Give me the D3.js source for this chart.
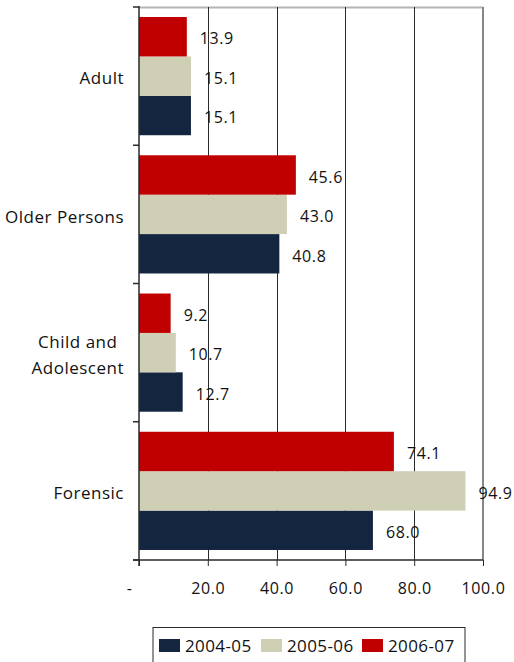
<!DOCTYPE html>
<html>
<head>
<meta charset="utf-8">
<script src="https://cdn.jsdelivr.net/npm/d3@7"></script>
<style>
  html, body { margin: 0; padding: 0; background: #fff; }
  svg { display: block; font-family: "Open Sans", "DejaVu Sans", sans-serif; }
</style>
</head>
<body>
<svg id="chart" width="514" height="662"></svg>
<script>
// Categories, top to bottom
const categories = ["Adult", "Older Persons", "Child and Adolescent", "Forensic"];
// Series names (legend order) and their values per category
const seriesNames = ["2004-05", "2005-06", "2006-07"];
const values2004 = [15.1, 40.8, 12.7, 68.0];
const values2005 = [15.1, 43.0, 10.7, 94.9];
const values2006 = [13.9, 45.6, 9.2, 74.1];
const tickValues = [0, 20, 40, 60, 80, 100];
const tickLabels = ["-", "20.0", "40.0", "60.0", "80.0", "100.0"];
const colors = ["#13253f", "#cfcfb5", "#c00000"];

const seriesValues = [values2004, values2005, values2006];
const data = categories.map((c, i) => ({
  category: c,
  bars: seriesNames.map((s, j) => ({ series: s, value: seriesValues[j][i], color: colors[j] }))
}));

const svg = d3.select("#chart");
const margin = { left: 139, right: 31, top: 7, bottom: 102 };
const W = 514, H = 662;
const x0 = margin.left, x1 = W - margin.right;
const y0 = margin.top, y1 = H - margin.bottom;

const x = d3.scaleLinear().domain([0, 100]).range([x0, x1]);
const y = d3.scaleBand().domain(categories).range([y0, y1]).paddingInner(0.145).paddingOuter(0.0725);
// within a group: 2006-07 on top, then 2005-06, then 2004-05
const ySub = d3.scaleBand().domain(["2006-07", "2005-06", "2004-05"]).range([0, y.bandwidth()]);

const fontSize = 16;
const textColor = "#111";

// plot frame (top and right edges)
svg.append("line").attr("x1", x0).attr("x2", x1).attr("y1", y0 + 0.5).attr("y2", y0 + 0.5)
  .attr("stroke", "#b4b4b4").attr("stroke-width", 2);
svg.append("line").attr("x1", x1).attr("x2", x1).attr("y1", y0).attr("y2", y1)
  .attr("stroke", "#868686").attr("stroke-width", 2);

// vertical gridlines
svg.append("g").selectAll("line").data(tickValues.filter(v => v > 0 && v < 100)).join("line")
  .attr("x1", d => Math.round(x(d)) + 0.5).attr("x2", d => Math.round(x(d)) + 0.5)
  .attr("y1", y0).attr("y2", y1)
  .attr("stroke", "#2a2a2a").attr("stroke-width", 1);

// bars
const groups = svg.append("g").selectAll("g").data(data).join("g")
  .attr("transform", d => `translate(0,${y(d.category)})`);

groups.selectAll("rect").data(d => d.bars).join("rect")
  .attr("x", x(0))
  .attr("y", d => ySub(d.series))
  .attr("width", d => x(d.value) - x(0))
  .attr("height", ySub.bandwidth())
  .attr("fill", d => d.color);

// value labels
groups.selectAll("text").data(d => d.bars).join("text")
  .attr("x", d => x(d.value) + 13)
  .attr("y", d => ySub(d.series) + ySub.bandwidth() / 2 + 2)
  .attr("dy", "0.36em")
  .attr("font-size", fontSize)
  .attr("letter-spacing", "0.6px")
  .attr("fill", textColor)
  .text(d => d.value.toFixed(1));

// x axis
const xAxis = d3.axisBottom(x).tickValues(tickValues).tickSize(6)
  .tickFormat((d, i) => tickLabels[i]);
const gx = svg.append("g").attr("transform", `translate(0,${y1})`).call(xAxis);
gx.select(".domain").attr("stroke", "#2a2a2a").attr("stroke-width", 1.5)
  .attr("d", `M${x0 - 6},0H${x1}`);
gx.selectAll(".tick line").attr("stroke", "#2a2a2a");
gx.selectAll(".tick text")
  .attr("font-family", "'Open Sans', sans-serif")
  .attr("font-size", fontSize).attr("letter-spacing", "0.6px").attr("fill", textColor)
  .attr("y", 23)
  .attr("dx", (d, i) => i === 0 ? -10 : 0);

// y axis line with category boundary ticks
svg.append("line").attr("x1", x0).attr("x2", x0).attr("y1", y0 - 1).attr("y2", y1 + 6)
  .attr("stroke", "#2a2a2a").attr("stroke-width", 1.5);
const boundaries = d3.range(categories.length + 1).map(i => y0 + i * (y1 - y0) / categories.length);
svg.append("g").selectAll("line").data(boundaries).join("line")
  .attr("x1", x0 - 6).attr("x2", x0).attr("y1", d => d).attr("y2", d => d)
  .attr("stroke", "#2a2a2a").attr("stroke-width", 1.5);

// category labels, right-aligned block; wrapped lines centred within it
const catLines = { "Child and Adolescent": ["Child and", "Adolescent"] };
const labelRight = 124;
const lab = svg.append("g").selectAll("text").data(categories).join("text")
  .attr("font-size", 17)
  .attr("letter-spacing", "0.5px")
  .attr("fill", textColor)
  .attr("transform", d => `translate(0,${y(d) + y.bandwidth() / 2 + 2})`);
lab.each(function(d) {
  const lines = catLines[d] || [d];
  const t = d3.select(this);
  const spans = lines.map((ln, i) => t.append("tspan")
    .attr("y", (i - (lines.length - 1) / 2) * 26)
    .attr("dy", "0.36em").text(ln));
  const widths = spans.map(s => s.node().getComputedTextLength());
  const maxW = Math.max(...widths);
  spans.forEach((s, i) => s.attr("x", labelRight - maxW + (maxW - widths[i]) / 2));
});

// legend
const lg = svg.append("g");
lg.append("rect").attr("x", 153).attr("y", 627.5).attr("width", 312).attr("height", 45)
  .attr("fill", "#fff").attr("stroke", "#2a2a2a").attr("stroke-width", 1);
const legendX = [159, 261, 362];
const li = lg.selectAll("g.item").data(seriesNames).join("g").attr("class", "item")
  .attr("transform", (d, i) => `translate(${legendX[i]},639)`);
li.append("rect").attr("width", 21).attr("height", 13).attr("fill", (d, i) => colors[i]);
li.append("text").attr("x", 26).attr("y", 6.5).attr("dy", "0.36em")
  .attr("font-size", 17).attr("letter-spacing", "0.4px").attr("fill", textColor)
  .text(d => d);
</script>
</body>
</html>
